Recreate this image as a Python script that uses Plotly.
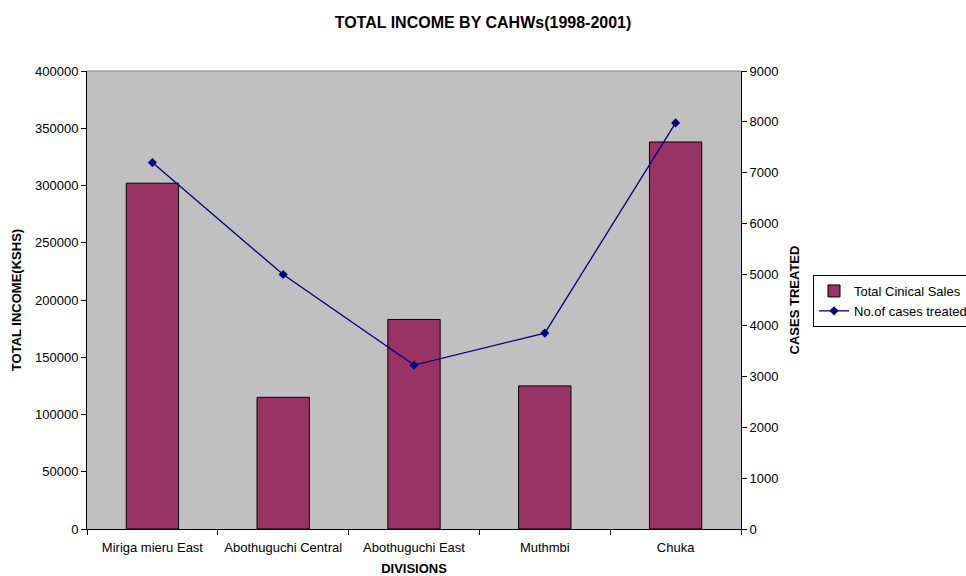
import plotly.graph_objects as go

# Divisions and their figures for 1998-2001
divisions = ["Miriga mieru East", "Abothuguchi Central", "Abothuguchi East", "Muthmbi", "Chuka"]
total_sales = [302000, 115000, 183000, 125000, 338000]
cases_treated = [7200, 5000, 3220, 3850, 7980]

income_ticks = list(range(0, 400001, 50000))
cases_ticks = list(range(0, 9001, 1000))

FONT = "Liberation Sans, Arial, sans-serif"
FS = 13

fig = go.Figure()

fig.add_trace(go.Bar(
    x=divisions, y=total_sales, name="Total Cinical Sales",
    marker=dict(color="#993366", line=dict(color="#000000", width=1)),
    width=0.4, yaxis="y",
))

fig.add_trace(go.Scatter(
    x=divisions, y=cases_treated, name="No.of cases treated",
    mode="lines+markers",
    line=dict(color="#000080", width=1.3),
    marker=dict(symbol="diamond", size=7, color="#000080"),
    yaxis="y2",
))

axis_common = dict(
    showgrid=False, zeroline=False, showline=True, linecolor="#000000", linewidth=1,
    ticks="outside", ticklen=5, tickcolor="#000000",
    tickfont=dict(family=FONT, size=FS, color="#000000"),
)

fig.update_layout(
    width=966, height=576,
    margin=dict(l=87, r=225, t=71, b=47, autoexpand=False),
    paper_bgcolor="#FFFFFF", plot_bgcolor="#C0C0C0",
    font=dict(family=FONT, size=FS, color="#000000"),
    title=dict(text="<b>TOTAL INCOME BY CAHWs(1998-2001)</b>", x=0.5, xanchor="center",
               y=1 - 22 / 576, yanchor="middle", font=dict(family=FONT, size=16)),
    bargap=0.6,
    xaxis=dict(**axis_common, type="category", tickson="boundaries", automargin=False,
               tickangle=0, ticklabelstandoff=6,
               title=dict(text="<b>DIVISIONS</b>", font=dict(family=FONT, size=FS), standoff=10)),
    yaxis=dict(**axis_common, range=[0, 400000], tickvals=income_ticks, automargin=False,
               ticktext=[str(v) for v in income_ticks],
               title=dict(text="<b>TOTAL INCOME(KSHS)</b>", font=dict(family=FONT, size=FS), standoff=10)),
    yaxis2=dict(**axis_common, range=[0, 9000], tickvals=cases_ticks, automargin=False,
                ticktext=[str(v) for v in cases_ticks],
                overlaying="y", side="right",
                title=dict(text="<b>CASES TREATED</b>", font=dict(family=FONT, size=FS), standoff=12)),
    legend=dict(x=(813 - 87) / 654, y=(529 - 275) / 458, xanchor="left", yanchor="top",
                bgcolor="#FFFFFF", bordercolor="#000000", borderwidth=1,
                font=dict(family=FONT, size=FS), tracegroupgap=0, itemwidth=30),
    showlegend=True,
)

# gray border along the top edge of the plotting area
fig.add_shape(type="line", xref="paper", yref="paper", x0=0, x1=1, y0=1, y1=1,
              line=dict(color="#808080", width=1))

fig.write_html("out.html")
